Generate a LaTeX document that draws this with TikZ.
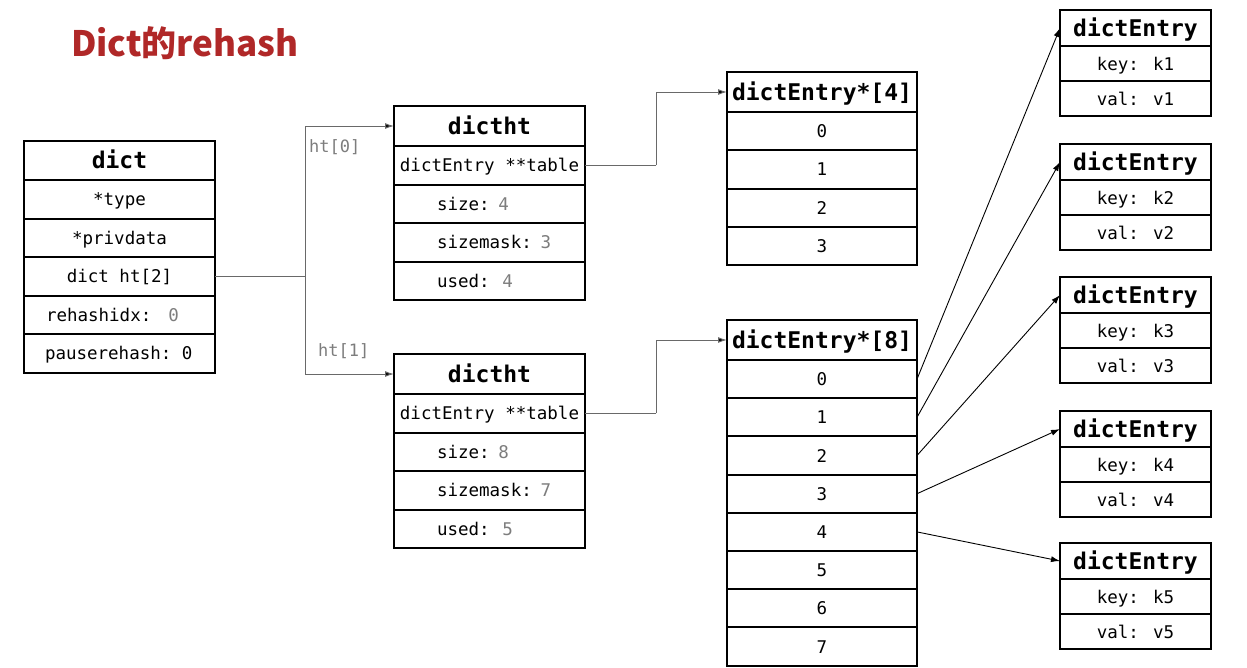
\documentclass[tikz,border=0pt]{standalone}
\usepackage{fontspec}
\usetikzlibrary{arrows.meta}
\newfontfamily\monof{DejaVu Sans Mono}
\newfontfamily\cjkf{Noto Sans CJK SC}
\definecolor{titlered}{RGB}{176,40,40}
\definecolor{valgray}{RGB}{125,125,125}
\definecolor{linegray}{RGB}{105,105,105}
\newcommand\valg[1]{\textcolor{valgray}{#1}}
\tikzset{
  cell/.style={draw=black, line width=2pt, inner sep=0pt, outer sep=0pt, anchor=north west,
    font=\monof\fontsize{17.5}{18}\selectfont, text height=14.5pt, text depth=1.5pt, align=center},
  head/.style={cell, font=\monof\bfseries\fontsize{23}{24}\selectfont, text height=18.5pt, text depth=2.5pt},
  dcell/.style={cell, minimum width=191pt, minimum height=38.5pt},
  dhead/.style={head, minimum width=191pt, minimum height=39pt},
  tcell/.style={cell, minimum width=191pt, minimum height=38.5pt},
  tleft/.style={tcell, text width=191pt, align=left},
  thead/.style={head, minimum width=191pt, minimum height=40pt},
  acell/.style={cell, minimum width=190pt, minimum height=38.3pt},
  ahead/.style={head, minimum width=190pt, minimum height=40pt},
  ecell/.style={cell, minimum width=151pt, minimum height=35pt},
  ehead/.style={head, minimum width=151pt, minimum height=36pt},
  conn/.style={draw=linegray, line width=1pt},
  arr/.style={draw=black, line width=0.9pt, -{Latex[length=9pt,width=6pt]}},
  garr/.style={conn, -{Latex[length=9pt,width=6pt,fill=black]}},
  lbl/.style={font=\monof\fontsize{17}{18}\selectfont, text=valgray, inner sep=0pt},
}
\begin{document}
\begin{tikzpicture}[x=1pt,y=-1pt]
\path[use as bounding box, fill=white] (0,0) rectangle (1247,667);

% title
\node[anchor=base west, inner sep=0pt, text=titlered, font=\cjkf\bfseries\fontsize{35}{40}\selectfont] (title) at (71,56) {Dict的rehash};

% dict
\node[dhead] (dh) at (24,141) {dict};
\node[dcell] (d1) at (24,180) {*type};
\node[dcell] (d2) at (24,218.5) {*privdata};
\node[dcell] (d3) at (24,257) {dict ht[2]};
\node[dcell, text width=191pt, align=left] (d4) at (24,295.5) {\hspace*{22pt}rehashidx:\hspace{17pt}\valg{0}};
\node[dcell, text width=191pt, align=left] (d5) at (24,334) {\hspace*{21pt}pauserehash:\hspace{10.5pt}0};

% dictht 0
\node[thead] (ah) at (394,106) {dictht};
\node[tcell] (a1) at (394,146) {dictEntry **table};
\node[tleft] (a2) at (394,184.5) {\hspace*{43pt}size: \valg{4}};
\node[tleft] (a3) at (394,223) {\hspace*{43pt}sizemask: \valg{3}};
\node[tleft] (a4) at (394,261.5) {\hspace*{43pt}used: \hspace{4pt}\valg{4}};

% dictht 1
\node[thead] (bh) at (394,354) {dictht};
\node[tcell] (b1) at (394,394) {dictEntry **table};
\node[tleft] (b2) at (394,432.5) {\hspace*{43pt}size: \valg{8}};
\node[tleft] (b3) at (394,471) {\hspace*{43pt}sizemask: \valg{7}};
\node[tleft] (b4) at (394,509.5) {\hspace*{43pt}used: \hspace{4pt}\valg{5}};

% dictEntry*[4]
\node[ahead] (ph) at (727,72) {dictEntry*[4]};
\node[acell] (p0) at (727,112) {0};
\node[acell] (p1) at (727,150.3) {1};
\node[acell] (p2) at (727,188.6) {2};
\node[acell] (p3) at (727,226.9) {3};

% dictEntry*[8]
\node[ahead] (qh) at (727,320) {dictEntry*[8]};
\node[acell, minimum height=38.2pt] (q0) at (727,360) {0};
\node[acell, minimum height=38.2pt] (q1) at (727,398.2) {1};
\node[acell, minimum height=38.2pt] (q2) at (727,436.4) {2};
\node[acell, minimum height=38.2pt] (q3) at (727,474.6) {3};
\node[acell, minimum height=38.2pt] (q4) at (727,512.8) {4};
\node[acell, minimum height=38.2pt] (q5) at (727,551.0) {5};
\node[acell, minimum height=38.2pt] (q6) at (727,589.2) {6};
\node[acell, minimum height=38.2pt] (q7) at (727,627.4) {7};

% dictEntry boxes
\foreach \i/\t in {1/10, 2/144, 3/277, 4/411, 5/543} {
  \node[ehead] (e\i h) at (1060,\t) {dictEntry};
  \node[ecell] (e\i k) at (1060,\t+36) {key: k\i};
  \node[ecell] (e\i v) at (1060,\t+71) {val: v\i};
}

% connectors from dict
\coordinate (split) at (305,276.25);
\draw[conn] (d3.east) -- (split);
\draw[garr] (split) |- (ah.west);
\draw[garr] (split) |- (bh.west);
\node[lbl, anchor=west] (l0) at (309,147) {ht[0]};
\node[lbl, anchor=west] (l1) at (318,351) {ht[1]};

% table pointers
\coordinate (ta) at (656,165.25);
\coordinate (tb) at (656,413.25);
\draw[conn] (a1.east) -- (ta);
\draw[garr] (ta) |- (ph.west);
\draw[conn] (b1.east) -- (tb);
\draw[garr] (tb) |- (qh.west);

% bucket pointers
\draw[arr] (q0.east) -- (e1h.west);
\draw[arr] (q1.east) -- (e2h.west);
\draw[arr] (q2.east) -- (e3h.west);
\draw[arr] (q3.east) -- (e4h.west);
\draw[arr] (q4.east) -- (e5h.west);
\end{tikzpicture}
\end{document}
